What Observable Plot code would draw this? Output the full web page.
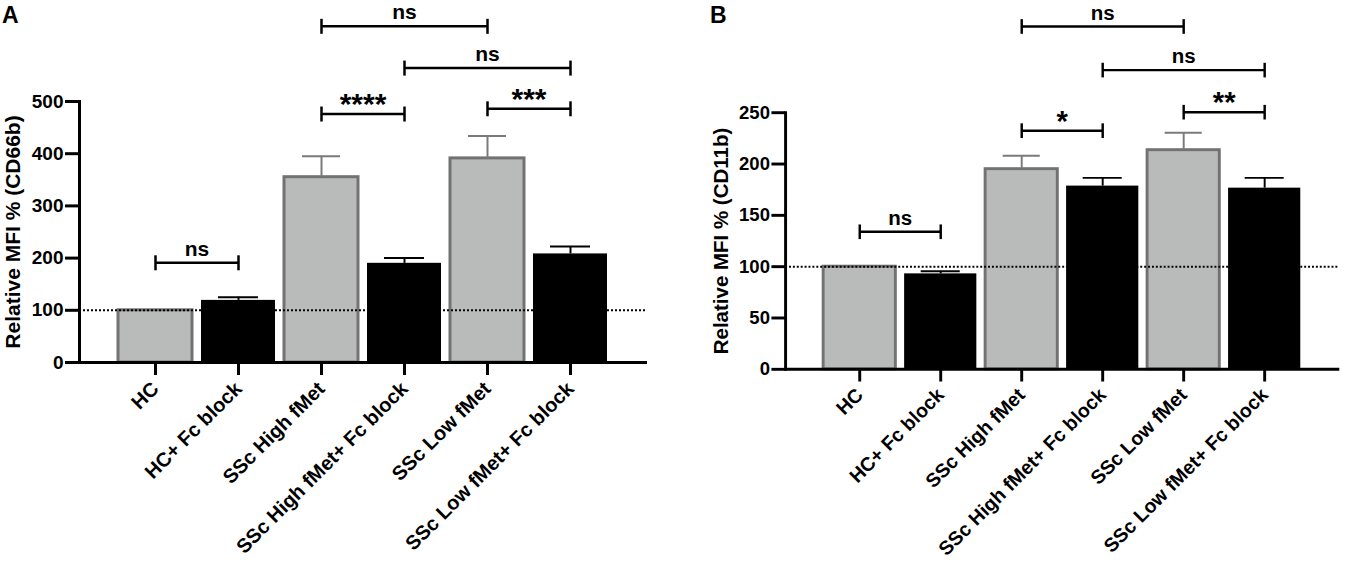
<!DOCTYPE html>
<html><head><meta charset="utf-8">
<script src="https://cdn.jsdelivr.net/npm/d3@7"></script>
<script src="https://cdn.jsdelivr.net/npm/@observablehq/plot@0.6"></script>
<style>
body{margin:0;background:#fff;}
#wrap{position:relative;width:1352px;height:568px;overflow:hidden;font-family:"Liberation Sans",Arial,sans-serif;}
.panel{position:absolute;top:0;}
.letter{position:absolute;font-weight:bold;font-size:23px;line-height:1;color:#000;}
</style></head><body>
<div id="wrap">
 <div id="pa" class="panel" style="left:0px"></div>
 <div id="pb" class="panel" style="left:708px"></div>
 <div class="letter" style="left:2px;top:4px">A</div>
 <div class="letter" style="left:710px;top:4px">B</div>
</div>
<script>
// ---- data ----
const categories = ["HC", "HC+ Fc block", "SSc High fMet", "SSc High fMet+ Fc block", "SSc Low fMet", "SSc Low fMet+ Fc block"];
const fcBlock = [false, true, false, true, false, true];

const cd66bMean  = [100, 119, 355, 190, 391, 208];
const cd66bUpper = [100, 125, 395, 200, 434, 222];
const cd66bTicks = [0, 100, 200, 300, 400, 500];

const cd11bMean  = [100, 93, 195, 178.5, 213.5, 176.5];
const cd11bUpper = [100, 95.5, 208, 186.5, 230.5, 186.5];
const cd11bTicks = [0, 50, 100, 150, 200, 250];

const bracketFrom = ["HC", "SSc High fMet", "SSc Low fMet", "SSc High fMet+ Fc block", "SSc High fMet"];
const bracketTo   = ["HC+ Fc block", "SSc High fMet+ Fc block", "SSc Low fMet+ Fc block", "SSc Low fMet+ Fc block", "SSc Low fMet"];
const cd66bBracketY = [191, 476, 486, 564, 644];
const cd66bBracketLabel = ["ns", "****", "***", "ns", "ns"];
const cd11bBracketY = [134, 232.5, 250.5, 291.5, 334];
const cd11bBracketLabel = ["ns", "*", "**", "ns", "ns"];

const referenceLine = [100];

// ---- drawing ----
const FONT = "Liberation Sans, Arial, Helvetica, sans-serif";

// places bracket labels midway between the two compared bars (scales.x is band-centred)
function midX(sub) {
  return (index, scales, values, dimensions, context, next) => {
    const x = scales.x;
    const X = Float64Array.from(sub, d => (x(d.from) + x(d.to)) / 2);
    return next(index, scales, {...values, x: X}, dimensions, context);
  };
}

function panel(means, uppers, ticks, yMax, yTitle, bY, bLabel, mt, mb) {
  const data = categories.map((c, i) => ({cat: c, mean: means[i], upper: uppers[i], fc: fcBlock[i]}));
  const gray = data.filter(d => !d.fc);
  const black = data.filter(d => d.fc);
  const grayErr = gray.filter(d => d.upper > d.mean);
  const blackErr = black.filter(d => d.upper > d.mean);
  const br = bracketFrom.map((f, i) => ({from: f, to: bracketTo[i], y: bY[i], label: bLabel[i], star: bLabel[i].includes("*")}));
  const nsB = br.filter(d => !d.star);
  const starB = br.filter(d => d.star);
  return Plot.plot({
    width: 660, height: 568,
    marginLeft: 79, marginRight: 13, marginTop: mt, marginBottom: mb,
    style: {fontFamily: FONT, background: "white", overflow: "visible", color: "#000"},
    x: {domain: categories, paddingInner: 0.106, paddingOuter: 0.46, label: null},
    y: {domain: [0, yMax], label: null},
    marks: [
      Plot.barY(gray, {x: "cat", y: "mean", fill: "#b9bbba", stroke: "#727272", strokeWidth: 3}),
      Plot.barY(black, {x: "cat", y: "mean", fill: "#000"}),
      Plot.ruleX(grayErr, {x: "cat", y1: "mean", y2: "upper", stroke: "#7a7a7a", strokeWidth: 2}),
      Plot.tickY(grayErr, {x: "cat", y: "upper", stroke: "#7a7a7a", strokeWidth: 2, insetLeft: 18, insetRight: 18}),
      Plot.ruleX(blackErr, {x: "cat", y1: "mean", y2: "upper", stroke: "#000", strokeWidth: 2}),
      Plot.tickY(blackErr, {x: "cat", y: "upper", stroke: "#000", strokeWidth: 2, insetLeft: 17, insetRight: 17}),
      Plot.ruleY(referenceLine, {stroke: "#000", strokeWidth: 2, strokeDasharray: "2,2"}),
      Plot.ruleY([0], {stroke: "#000", strokeWidth: 3}),
      Plot.frame({anchor: "left", stroke: "#000", strokeWidth: 3}),
      Plot.axisY({ticks, tickSize: 14, tickPadding: 2, fontSize: 19, fontWeight: "bold", strokeWidth: 3, label: null}),
      Plot.axisX({tickRotate: -45, tickSize: 13, tickPadding: 10, fontSize: 20, fontWeight: "bold", strokeWidth: 3, label: null}),
      Plot.text([yTitle], {frameAnchor: "left", rotate: -90, dx: -66, fontSize: 21, fontWeight: "bold", lineAnchor: "middle", textAnchor: "middle", fill: "#000"}),
      // significance brackets
      Plot.link(br, {x1: "from", x2: "to", y1: "y", y2: "y", stroke: "#000", strokeWidth: 2.5}),
      Plot.ruleX(br, {x: "from", y1: "y", y2: "y", insetTop: -7, insetBottom: -8, stroke: "#000", strokeWidth: 2.5}),
      Plot.ruleX(br, {x: "to", y1: "y", y2: "y", insetTop: -7, insetBottom: -8, stroke: "#000", strokeWidth: 2.5}),
      Plot.text(nsB, {x: "from", y: "y", text: "label", lineAnchor: "bottom", dy: -7, fontSize: 21, fontWeight: "bold", fill: "#000", render: midX(nsB)}),
      Plot.text(starB, {x: "from", y: "y", text: "label", lineAnchor: "bottom", dy: 0, fontSize: 30, fontWeight: "bold", fill: "#000", render: midX(starB)})
    ]
  });
}

document.getElementById("pa").append(
  panel(cd66bMean, cd66bUpper, cd66bTicks, 500, "Relative MFI % (CD66b)", cd66bBracketY, cd66bBracketLabel, 101, 206));
document.getElementById("pb").append(
  panel(cd11bMean, cd11bUpper, cd11bTicks, 250, "Relative MFI % (CD11b)", cd11bBracketY, cd11bBracketLabel, 115, 190));
</script>
</body></html>
